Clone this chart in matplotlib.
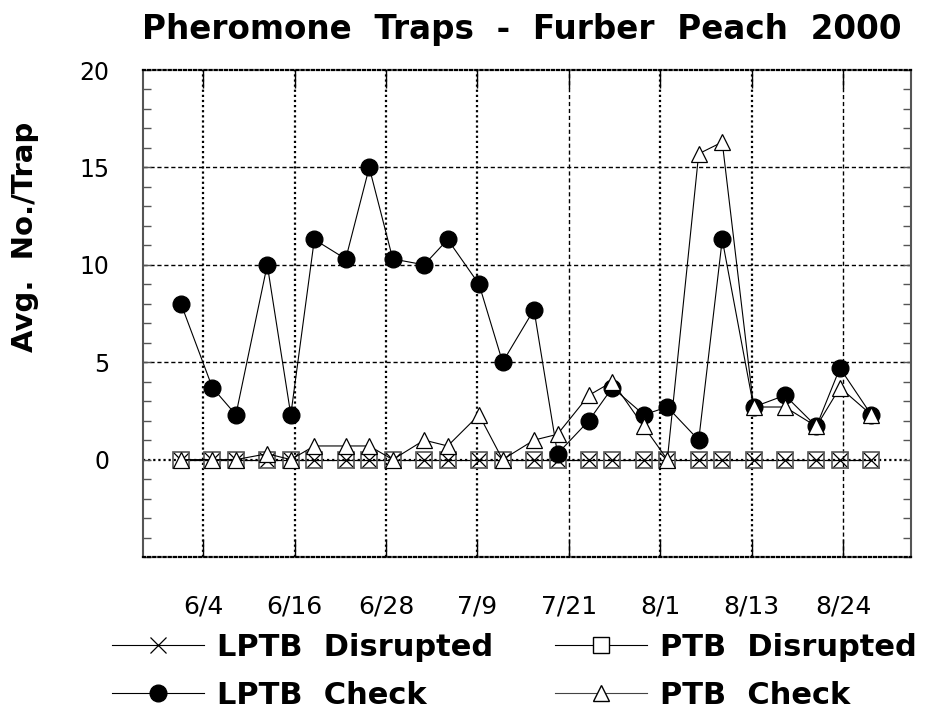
import numpy as np
import pandas as pd
import matplotlib
matplotlib.use('Agg')
import matplotlib.pyplot as plt
from matplotlib.lines import Line2D
from matplotlib.ticker import MultipleLocator, FixedLocator

# trap sampling dates (2000 season)
sample_dates = ['6/1', '6/5', '6/8', '6/12', '6/15', '6/18', '6/22', '6/25', '6/28',
                '7/2', '7/5', '7/9', '7/12', '7/16', '7/19', '7/23', '7/26', '7/30',
                '8/2', '8/6', '8/9', '8/13', '8/17', '8/21', '8/24', '8/28']

lptb_disrupted = [0, 0, 0, 0, 0, 0, 0, 0, 0, 0, 0, 0, 0,
                  0, 0, 0, 0, 0, 0, 0, 0, 0, 0, 0, 0, 0]
ptb_disrupted = [0, 0, 0, 0, 0, 0, 0, 0, 0, 0, 0, 0, 0,
                 0, 0, 0, 0, 0, 0, 0, 0, 0, 0, 0, 0, 0]
lptb_check = [8.0, 3.7, 2.3, 10.0, 2.3, 11.3, 10.3, 15.0, 10.3, 10.0, 11.3, 9.0, 5.0,
              7.7, 0.3, 2.0, 3.7, 2.3, 2.7, 1.0, 11.3, 2.7, 3.3, 1.7, 4.7, 2.3]
ptb_check = [0, 0, 0, 0.3, 0, 0.7, 0.7, 0.7, 0, 1.0, 0.7, 2.3, 0,
             1.0, 1.3, 3.3, 4.0, 1.7, 0, 15.7, 16.3, 2.7, 2.7, 1.7, 3.7, 2.3]

tick_labels = ['6/4', '6/16', '6/28', '7/9', '7/21', '8/1', '8/13', '8/24']
ytick_values = [0, 5, 10, 15, 20]

# days since June 1
days = (pd.to_datetime(['2000/' + d for d in sample_dates], format='%Y/%m/%d')
        - pd.Timestamp('2000-06-01')).days.values
tick_pos = 2.85 + 11.65 * np.arange(len(tick_labels))

fig = plt.figure(figsize=(9.31, 7.13), dpi=100)
ax = fig.add_axes([0.1536, 0.2188, 0.9785 - 0.1536, 0.9018 - 0.2188])

heavy_dot = dict(color='black', lw=1.6, linestyle=(0, (1, 1.3)), zorder=1)
thin_dash = dict(color='black', lw=1.0, linestyle=(0, (3, 2)), zorder=1)

# grid
for pos, lab in zip(tick_pos, tick_labels):
    if lab in ('7/21', '8/24'):
        ax.axvline(pos, **thin_dash)
    else:
        ax.axvline(pos, **heavy_dot)
for yv in [5, 10, 15]:
    ax.axhline(yv, **thin_dash)
ax.axhline(0, **heavy_dot)

lw = 0.8
ax.plot(days, lptb_disrupted, color='black', lw=lw, marker='x', ms=11, mew=0.9, zorder=3)
ax.plot(days, ptb_disrupted, color='black', lw=lw, marker='s', ms=12, mfc='none',
        mec='#555555', mew=1.2, zorder=3)
ax.plot(days, lptb_check, color='black', lw=lw, marker='o', ms=12, mfc='black',
        mec='black', zorder=4)
ax.plot(days, ptb_check, color='black', lw=lw, marker='^', ms=12, mfc='white',
        mec='black', mew=0.9, zorder=5)

ax.set_xlim(-4.84, 93.06)
ax.set_ylim(-5, 20)

ax.xaxis.set_major_locator(FixedLocator(tick_pos))
ax.set_xticklabels(tick_labels)
ax.yaxis.set_major_locator(FixedLocator(ytick_values))
ax.yaxis.set_minor_locator(MultipleLocator(1))
ax.set_yticklabels([str(v) for v in ytick_values])

ax.tick_params(axis='x', which='major', direction='in', length=13, width=1,
               top=True, bottom=True, labelsize=18, pad=27)
ax.tick_params(axis='y', which='both', direction='in', length=6, width=1,
               left=True, right=True, color='#555555', labelsize=17, pad=24)

for side in ('left', 'right'):
    ax.spines[side].set_color('#555555')
    ax.spines[side].set_linewidth(1.5)
for side in ('top', 'bottom'):
    ax.spines[side].set_linestyle((0, (1, 1.3)))
    ax.spines[side].set_linewidth(1.6)

fig.text(0.56, 0.958, 'Pheromone  Traps  -  Furber  Peach  2000', ha='center', va='center',
         fontsize=23.5, fontweight='bold')
fig.text(0.027, 0.668, 'Avg.  No./Trap', rotation=90, ha='center', va='center',
         fontsize=21, fontweight='bold')

# legend, two columns placed separately
h_lptb_dis = Line2D([], [], color='black', lw=lw, marker='x', ms=11, mew=0.9)
h_lptb_chk = Line2D([], [], color='black', lw=lw, marker='o', ms=12)
h_ptb_dis = Line2D([], [], color='black', lw=lw, marker='s', ms=12, mfc='white', mec='black')
h_ptb_chk = Line2D([], [], color='#444444', lw=lw, marker='^', ms=12, mfc='white', mec='black')

leg_kw = dict(frameon=False, loc='upper left', borderpad=0, borderaxespad=0,
              handlelength=3.0, handletextpad=0.45, labelspacing=0.62,
              prop={'size': 22, 'weight': 'bold'})
fig.legend([h_lptb_dis, h_lptb_chk], ['LPTB  Disrupted', 'LPTB  Check'],
           bbox_to_anchor=(112 / 931, 1 - 633 / 713), **leg_kw)
fig.legend([h_ptb_dis, h_ptb_chk], ['PTB  Disrupted', 'PTB  Check'],
           bbox_to_anchor=(555 / 931, 1 - 633 / 713), **leg_kw)

fig.savefig('out.png', dpi=100)
